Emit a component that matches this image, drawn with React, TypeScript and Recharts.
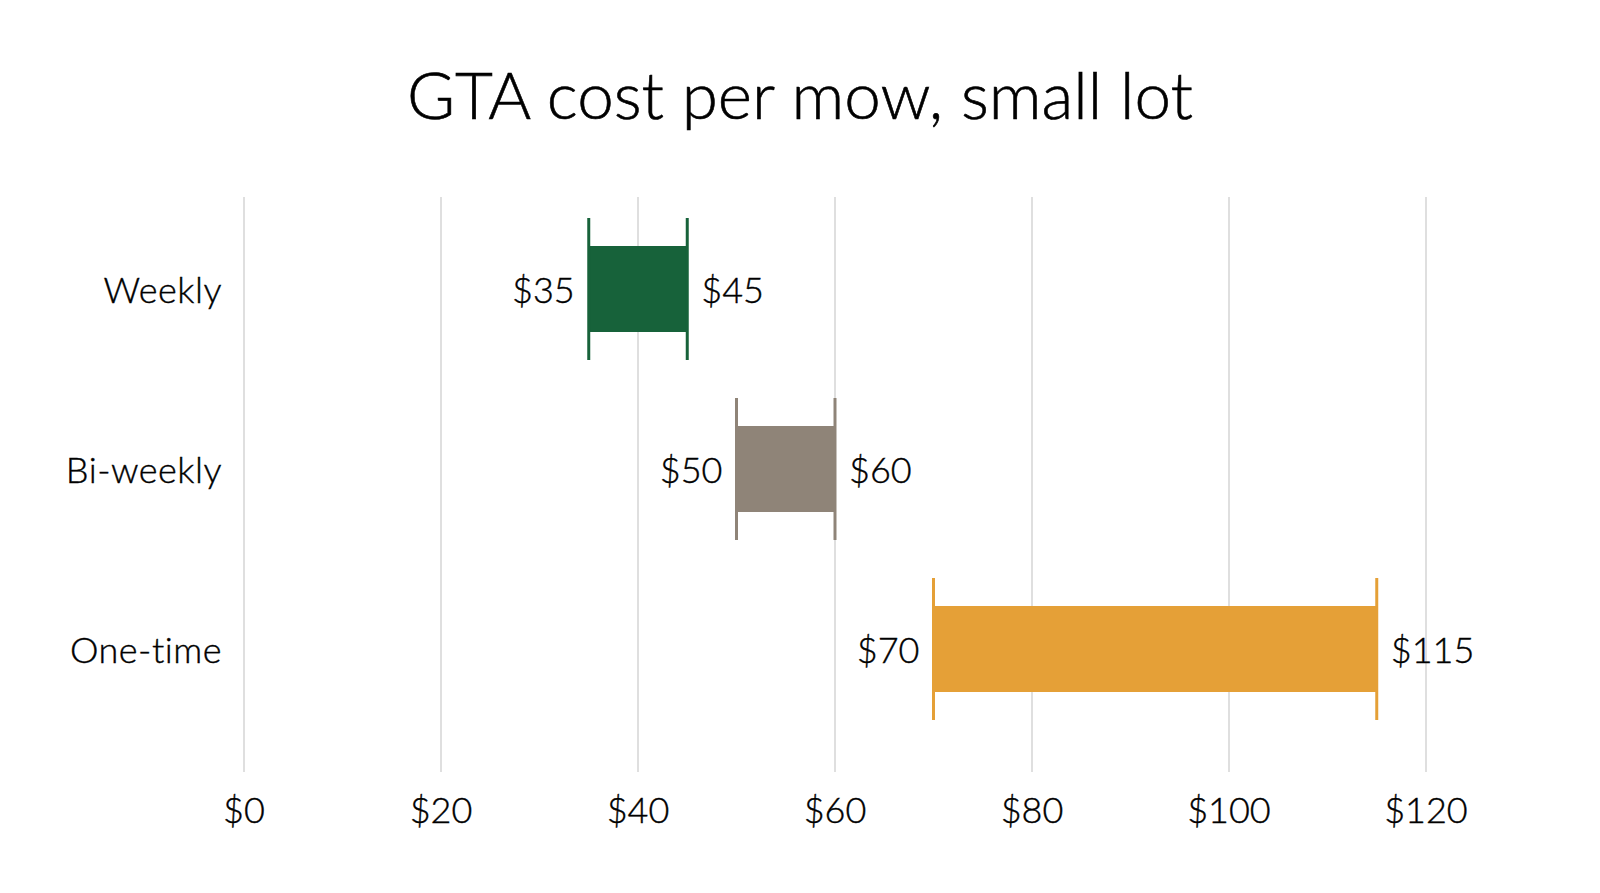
import React from "react"
import { BarChart, Bar, XAxis, YAxis, CartesianGrid, Cell } from "recharts"

const categories = ["Weekly", "Bi-weekly", "One-time"]
const lowValues = [35, 50, 70]
const highValues = [45, 60, 115]
const barColors = ["#17623a", "#8f8478", "#e5a037"]
const xTicks = [0, 20, 40, 60, 80, 100, 120]

const FONT = "Lato, 'Open Sans', sans-serif"

const chartData = categories.map((name, i) => ({
  name,
  low: lowValues[i],
  high: highValues[i],
  range: [lowValues[i], highValues[i]],
}))

function RangeShape(props: any) {
  const { x, y, width, height, fill, payload } = props
  const cy = y + height / 2
  const whisker = 71
  return (
    <g>
      <rect x={x} y={y} width={width} height={height} fill={fill} />
      <line x1={x} x2={x} y1={cy - whisker} y2={cy + whisker} stroke={fill} strokeWidth={3} />
      <line x1={x + width} x2={x + width} y1={cy - whisker} y2={cy + whisker} stroke={fill} strokeWidth={3} />
      <text
        x={x - 14}
        y={cy}
        textAnchor="end"
        dominantBaseline="central"
        fontSize={36}
        fontWeight={300}
        fontFamily={FONT}
        fill="#000"
        stroke="#000"
        strokeWidth={0.4}
      >
        ${payload.low}
      </text>
      <text
        x={x + width + 14}
        y={cy}
        textAnchor="start"
        dominantBaseline="central"
        fontSize={36}
        fontWeight={300}
        fontFamily={FONT}
        fill="#000"
        stroke="#000"
        strokeWidth={0.4}
      >
        ${payload.high}
      </text>
    </g>
  )
}

function CategoryTick(props: any) {
  const { x, y, payload } = props
  return (
    <text
      x={x}
      y={y}
      textAnchor="end"
      dominantBaseline="central"
      fontSize={36}
      fontWeight={300}
      letterSpacing={0.5}
      fontFamily={FONT}
      fill="#000"
      stroke="#000"
      strokeWidth={0.4}
    >
      {payload.value}
    </text>
  )
}

export default function App() {
  return (
    <div style={{ position: "absolute", left: 0, top: 0, width: 1600, height: 893, background: "#fff" }}>
      <div
        style={{
          position: "absolute",
          top: 54,
          left: 0,
          width: 1600,
          textAlign: "center",
          fontFamily: FONT,
          fontSize: 65.5,
          fontWeight: 300,
          color: "#000",
          WebkitTextStroke: "0.6px #000",
        }}
      >
        GTA cost per mow, small lot
      </div>
      <BarChart
        width={1600}
        height={893}
        data={chartData}
        layout="vertical"
        margin={{ top: 197, right: 174, bottom: 41, left: 0 }}
        barSize={86}
      >
        <CartesianGrid horizontal={false} vertical={true} stroke="#bfbfbf" />
        <XAxis
          type="number"
          domain={[0, 120]}
          ticks={xTicks}
          tickFormatter={(v) => `$${v}`}
          axisLine={false}
          tickLine={false}
          tickSize={0}
          tickMargin={25}
          height={80}
          tick={{ fontSize: 36, fontWeight: 300, fontFamily: FONT, fill: "#000", stroke: "#000", strokeWidth: 0.4 }}
          interval={0}
        />
        <YAxis
          type="category"
          dataKey="name"
          width={244}
          axisLine={false}
          tickLine={false}
          tickSize={0}
          tickMargin={22}
          padding={{ top: 2, bottom: 33 }}
          tick={<CategoryTick />}
        />
        <Bar dataKey="range" shape={<RangeShape />} isAnimationActive={false}>
          {chartData.map((d, i) => (
            <Cell key={d.name} fill={barColors[i]} />
          ))}
        </Bar>
      </BarChart>
    </div>
  )
}
